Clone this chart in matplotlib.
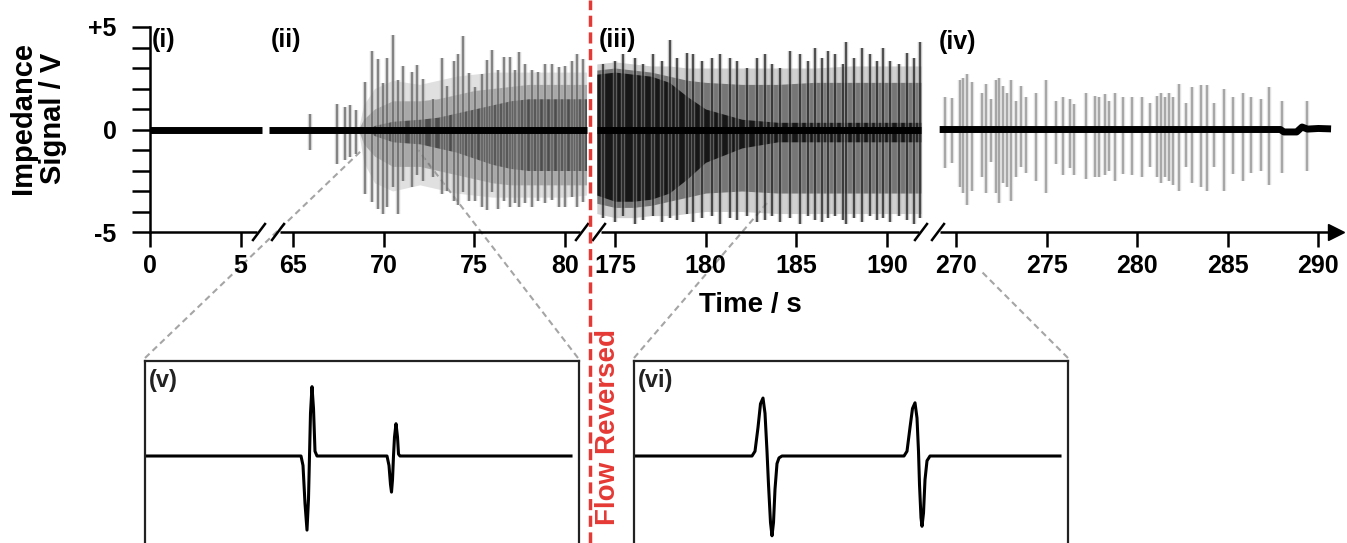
import matplotlib
matplotlib.use("Agg")
import matplotlib.pyplot as plt
from matplotlib.lines import Line2D
import numpy as np

plt.rcParams['font.family'] = ['Liberation Sans', 'DejaVu Sans']
plt.rcParams['font.weight'] = 'bold'

W, H = 1347, 543

# --- broken time axis: each segment is shifted onto one continuous axis ---
seg_offsets = [0.0, 57.11, 149.34, 225.52]
seg_ticks = [[0, 5], [65, 70, 75, 80], [175, 180, 185, 190],
             [270, 275, 280, 285, 290]]
seg_ranges = [(0.0, 6.2), (63.7, 81.2), (174.0, 191.9), (269.1, 290.7)]

# baseline of segment iv (small drift at the end)
base4_t = [269.1, 287.9, 288.1, 288.8, 289.1, 289.4, 290.0, 290.7]
base4_v = [0.0, 0.0, -0.12, -0.12, 0.12, 0.02, 0.05, 0.03]

# --- segment ii: envelopes (V) ---
env2_t = [63.7, 68.6, 68.9, 69.5, 70.5, 72, 73, 74, 75, 76, 77, 78, 79, 80, 81.2]
env2_outer_up = [0, 0, 1.2, 2.0, 2.4, 2.2, 2.4, 2.6, 2.7, 2.8, 2.8, 2.8, 2.8, 2.8, 2.8]
env2_outer_lo = [0, 0, -1.6, -2.6, -3.0, -2.7, -2.9, -3.1, -3.2, -3.3, -3.3, -3.3, -3.3, -3.3, -3.2]
env2_mid_up = [0, 0, 0.5, 1.0, 1.4, 1.4, 1.5, 1.7, 1.9, 2.0, 2.1, 2.2, 2.2, 2.2, 2.2]
env2_mid_lo = [0, 0, -0.7, -1.3, -1.8, -1.8, -2.0, -2.2, -2.4, -2.6, -2.7, -2.7, -2.7, -2.7, -2.7]
env2_core_up = [0, 0, 0, 0.2, 0.4, 0.5, 0.6, 0.8, 1.0, 1.2, 1.4, 1.5, 1.5, 1.5, 1.5]
env2_core_lo = [0, 0, 0, -0.3, -0.6, -0.7, -0.9, -1.1, -1.4, -1.7, -1.9, -2.0, -2.0, -2.0, -2.0]

# segment ii: distinct spikes
spk2_t = [65.94, 67.41, 67.87, 68.15, 68.5, 68.98, 69.35, 69.71, 69.99, 70.18,
          70.54, 70.82, 71.09, 71.56, 71.83, 72.2, 72.75, 73.2, 73.5, 73.86,
          74.13, 74.38, 74.69, 75.06, 75.43, 75.7, 75.98, 76.34, 76.62, 76.95,
          77.27, 77.5, 77.82, 78.19, 78.55, 78.92, 79.29, 79.66, 80.03, 80.4,
          80.67, 81.0]
spk2_up = [0.77, 1.25, 1.1, 1.2, 0.95, 2.3, 3.85, 3.45, 2.25, 3.5,
           4.6, 2.4, 3.1, 2.8, 3.15, 2.45, 1.5, 3.5, 2.1, 3.35,
           3.7, 4.55, 2.75, 2.05, 2.7, 3.4, 3.9, 2.9, 3.55, 3.55,
           2.9, 3.8, 3.2, 2.9, 2.8, 3.2, 3.2, 3.05, 3.1, 3.35,
           3.7, 3.45]
spk2_lo = [-1.02, -1.67, -1.5, -1.35, -1.2, -3.14, -3.55, -3.87, -4.1, -3.8,
           -2.8, -4.1, -2.5, -2.8, -2.2, -2.5, -2.3, -3.15, -3.0, -3.5,
           -3.7, -3.05, -3.5, -3.5, -3.8, -3.95, -3.05, -3.9, -3.5, -3.8,
           -3.6, -3.8, -3.6, -3.8, -3.5, -3.6, -3.45, -3.8, -3.8, -3.3,
           -3.8, -3.55]

# --- segment iii: envelopes (V) ---
env3_t = [174.0, 175, 176, 177, 178, 179, 180, 182, 184, 186, 188, 190, 191.9]
env3_outer_up = [3.2, 3.3, 3.2, 3.1, 3.1, 3.0, 3.0, 3.0, 3.0, 3.0, 3.1, 3.1, 3.1]
env3_outer_lo = [-4.1, -4.3, -4.3, -4.2, -4.2, -4.1, -4.0, -4.0, -4.1, -4.1, -4.1, -4.1, -4.1]
env3_mid_up = [2.9, 3.0, 2.9, 2.8, 2.6, 2.4, 2.3, 2.2, 2.2, 2.3, 2.3, 2.3, 2.3]
env3_mid_lo = [-3.6, -3.8, -3.8, -3.7, -3.5, -3.3, -3.1, -3.0, -3.1, -3.1, -3.1, -3.1, -3.1]
env3_core_up = [2.7, 2.8, 2.7, 2.6, 2.3, 1.6, 1.0, 0.5, 0.35, 0.35, 0.35, 0.35, 0.35]
env3_core_lo = [-3.2, -3.5, -3.5, -3.4, -3.1, -2.4, -1.6, -0.9, -0.6, -0.6, -0.6, -0.6, -0.6]

spk3_t = [174.35, 175.0, 175.46, 176.1, 176.56, 177.12, 177.58, 178.04, 178.44,
          178.96, 179.33, 179.79, 180.34, 180.8, 181.35, 181.72, 182.28, 182.83,
          183.29, 183.66, 184.12, 184.67, 185.22, 185.68, 186.05, 186.42, 186.78,
          187.15, 187.56, 187.75, 188.17, 188.63, 189.09, 189.46, 189.82, 190.19,
          190.65, 191.12, 191.48, 191.85]
spk3_up = [3.2, 3.35, 3.7, 3.5, 3.2, 3.7, 3.35, 4.35, 3.5,
           3.75, 3.7, 3.35, 3.5, 3.7, 3.5, 3.35, 3.0, 3.5,
           3.7, 3.2, 3.0, 3.85, 3.7, 3.35, 4.0, 3.5, 3.85,
           3.7, 3.2, 4.25, 3.5, 4.0, 3.7, 3.35, 4.0, 3.35,
           3.2, 3.75, 3.5, 4.25]
spk3_lo = [-4.3, -4.5, -4.2, -4.6, -4.4, -4.2, -4.5, -4.3, -4.4,
           -4.1, -4.5, -4.3, -4.2, -4.6, -4.3, -4.4, -4.2, -4.5,
           -4.4, -4.2, -4.5, -4.3, -4.6, -4.2, -4.4, -4.5, -4.3,
           -4.2, -4.4, -4.6, -4.3, -4.5, -4.2, -4.4, -4.3, -4.5,
           -4.2, -4.4, -4.6, -4.3]

# --- segment iv: sparse spikes ---
spk4_t = [269.38, 269.8, 270.2, 270.37, 270.6, 270.87, 271.42, 271.65, 271.93,
          272.2, 272.37, 272.6, 272.8, 273.06, 273.34, 273.61, 273.89, 274.4,
          274.95, 275.54, 275.88, 276.27, 276.49, 277.19, 277.65, 277.92, 278.2,
          278.47, 278.8, 279.19, 279.74, 280.29, 280.7, 281.07, 281.3, 281.52,
          281.75, 281.95, 282.33, 282.68, 283.02, 283.51, 283.88, 284.25, 284.79,
          285.31, 285.83, 286.29, 286.81, 287.25, 287.98, 289.37]
spk4_up = [1.6, 1.55, 2.4, 2.5, 2.7, 2.3, 1.8, 2.2, 1.5,
           2.4, 2.5, 2.1, 1.8, 2.4, 1.4, 2.1, 1.6, 1.8,
           2.4, 1.4, 1.6, 1.5, 1.25, 1.8, 1.65, 1.6, 1.75,
           1.4, 1.8, 1.6, 1.6, 1.6, 1.3, 1.65, 1.8, 1.6,
           1.8, 1.6, 2.2, 1.3, 2.05, 2.15, 2.15, 1.3, 2.0,
           1.6, 1.8, 1.6, 1.5, 2.05, 1.4, 1.4]
spk4_lo = [-1.9, -1.65, -2.8, -3.1, -3.7, -3.0, -2.3, -3.1, -1.6,
           -3.1, -3.6, -2.6, -2.8, -3.5, -2.3, -1.85, -2.1, -2.5,
           -3.1, -1.7, -2.2, -1.9, -2.2, -2.4, -2.3, -2.3, -2.2,
           -2.0, -2.5, -2.15, -2.2, -2.3, -1.85, -2.3, -2.6, -2.3,
           -2.5, -2.7, -3.0, -1.85, -2.6, -2.8, -3.0, -1.85, -3.0,
           -2.15, -2.5, -2.1, -2.0, -2.7, -2.1, -2.0]

# --- zoomed traces (v) and (vi), arbitrary units ---
zoom5_x = [2, 156, 158, 160, 162, 163.5, 164.5, 165.5, 167, 168.5, 170, 172,
           242, 244, 245.5, 246.5, 247.5, 248.5, 249.5, 251, 252.5, 253.5, 255, 426]
zoom5_y = [0, 0, -0.1, -0.5, -0.78, -0.45, 0.0, 0.45, 0.73, 0.5, 0.05, 0,
           0, -0.1, -0.3, -0.38, -0.25, 0.0, 0.2, 0.34, 0.2, 0.02, 0, 0]
zoom6_x = [2, 118, 121, 124, 126.5, 129, 131, 133, 134.5, 136.5, 138, 139.5, 141, 143, 145, 148,
           270, 273, 276, 278.5, 281, 283, 284.5, 285.5, 287, 288, 289.5, 291, 293, 296, 426]
zoom6_y = [0, 0, 0.05, 0.3, 0.55, 0.61, 0.45, 0.05, -0.3, -0.7, -0.84, -0.7, -0.35, -0.08, -0.02, 0,
           0, 0.05, 0.3, 0.5, 0.56, 0.4, 0.05, -0.3, -0.65, -0.74, -0.6, -0.25, -0.05, 0, 0]


def u(t, k):
    return np.asarray(t, dtype=float) - seg_offsets[k]


def fx(px):
    return px / W


def fy(py):
    return 1 - py / H


fig = plt.figure(figsize=(W / 100, H / 100), dpi=100)
ax = fig.add_axes([fx(150), fy(232), 1195 / W, 205 / H])
ax.patch.set_alpha(0)
px_per_s = 18.12
ax.set_xlim(0, 1195 / px_per_s)
ax.set_ylim(-5, 5)

# envelopes of the dense spike trains
for k, t, layers in [
    (1, env2_t, [(env2_outer_lo, env2_outer_up, '#9a9a9a', 0.3),
                 (env2_mid_lo, env2_mid_up, '#555555', 0.4),
                 (env2_core_lo, env2_core_up, '#111111', 0.6)]),
    (2, env3_t, [(env3_outer_lo, env3_outer_up, '#8a8a8a', 0.4),
                 (env3_mid_lo, env3_mid_up, '#3a3a3a', 0.6),
                 (env3_core_lo, env3_core_up, '#000000', 0.8)]),
]:
    for lo, up, col, a in layers:
        ax.fill_between(u(t, k), lo, up, color=col, alpha=a, lw=0, zorder=1)

# individual spikes: a wide faint stroke plus a thin darker stroke
for k, t, lo, up, wide, thin in [
    (1, spk2_t, spk2_lo, spk2_up, '#b0b0b0', '#5a5a5a'),
    (2, spk3_t, spk3_lo, spk3_up, '#9a9a9a', '#111111'),
    (3, spk4_t, spk4_lo, spk4_up, '#c8c8c8', '#8a8a8a'),
]:
    ax.vlines(u(t, k), lo, up, color=wide, lw=3.2, alpha=0.55, zorder=2)
    ax.vlines(u(t, k), lo, up, color=thin, lw=1.1, alpha=0.85, zorder=2)

# baselines
for k, (t0, t1) in enumerate(seg_ranges[:3]):
    ax.plot(u([t0, t1], k), [0, 0], color='black', lw=5, solid_capstyle='butt', zorder=3)
ax.plot(u(base4_t, 3), base4_v, color='black', lw=5, solid_capstyle='butt', zorder=3)

# ticks
xt, xl = [], []
for k, ticks in enumerate(seg_ticks):
    xt += list(u(ticks, k))
    xl += [str(v) for v in ticks]
ax.set_xticks(xt)
ax.set_xticklabels(xl, fontsize=18, fontweight='bold')
ax.set_yticks(range(-5, 6))
ax.set_yticklabels(['-5' if v == -5 else '+5' if v == 5 else '0' if v == 0 else ''
                    for v in range(-5, 6)], fontsize=18, fontweight='bold')
ax.tick_params(axis='y', direction='out', length=13, width=1.8, pad=11)
ax.tick_params(axis='x', direction='out', length=11, width=1.8, pad=5)
for s in ['top', 'right', 'bottom']:
    ax.spines[s].set_visible(False)
ax.spines['left'].set_linewidth(1.8)

# bottom axis with breaks
gaps_px = [(257, 280), (580, 601), (919, 940)]
pts = [150] + [g for gap in gaps_px for g in gap] + [1333]
for a, b in zip(pts[0::2], pts[1::2]):
    ax.plot([(a - 150) / px_per_s, (b - 150) / px_per_s], [-5, -5], color='black',
            lw=1.8, clip_on=False, solid_capstyle='butt', zorder=4)
ax.plot([(1336 - 150) / px_per_s], [-5], marker='>', ms=12, color='black',
        clip_on=False, zorder=4)
du, dv = 6 / px_per_s, 8 / 20.5
for a, b in gaps_px:
    for xp in (a + 2, b - 2):
        xc = (xp - 150) / px_per_s
        ax.plot([xc - du, xc + du], [-5 - dv, -5 + dv], color='black', lw=1.8,
                clip_on=False, zorder=4)

# zoom connector lines
for (x0, y0), (x1, y1) in [((145, 358), (362, 150)), ((578, 358), (418, 150)),
                           ((634, 358), (767, 203)), ((1068, 358), (980, 270))]:
    fig.add_artist(Line2D([fx(x0), fx(x1)], [fy(y0), fy(y1)], transform=fig.transFigure,
                          color='#a5a5a5', lw=1.5, ls=(0, (3, 2)), zorder=-1))

# insets
for left, xs, ys, label in [(145, zoom5_x, zoom5_y, '(v)'), (634, zoom6_x, zoom6_y, '(vi)')]:
    ia = fig.add_axes([fx(left), fy(551), 434 / W, 190 / H])
    ia.plot(xs, ys, color='black', lw=2.2)
    ia.set_xlim(0, 434)
    ia.set_ylim(-1, 1)
    ia.set_xticks([])
    ia.set_yticks([])
    for s in ia.spines.values():
        s.set_linewidth(1.6)
        s.set_color('#222222')
    ia.text(0.008, 0.9, label, transform=ia.transAxes, ha='left', va='center',
            fontsize=17, fontweight='bold', color='#222222')

# flow reversal marker
fig.add_artist(Line2D([fx(590), fx(590)], [0, 1], transform=fig.transFigure,
                      color='#e53935', lw=2.5, ls=(0, (3.2, 1.6)), zorder=10))
fig.text(fx(608), fy(427), 'Flow Reversed', rotation=90, ha='center', va='center',
         fontsize=20, fontweight='bold', color='#e53935')

# labels
for x, y, s in [(152, 40, '(i)'), (271, 40, '(ii)'), (599, 40, '(iii)'), (939, 42, '(iv)')]:
    fig.text(fx(x), fy(y), s, ha='left', va='center', fontsize=18, fontweight='bold')
fig.text(fx(750), fy(305), 'Time / s', ha='center', va='center', fontsize=20, fontweight='bold')
fig.text(fx(38), fy(118), 'Impedance\nSignal / V', rotation=90, ha='center', va='center',
         fontsize=21, fontweight='bold', linespacing=1.1, multialignment='center')

fig.savefig('out.png', dpi=100)
